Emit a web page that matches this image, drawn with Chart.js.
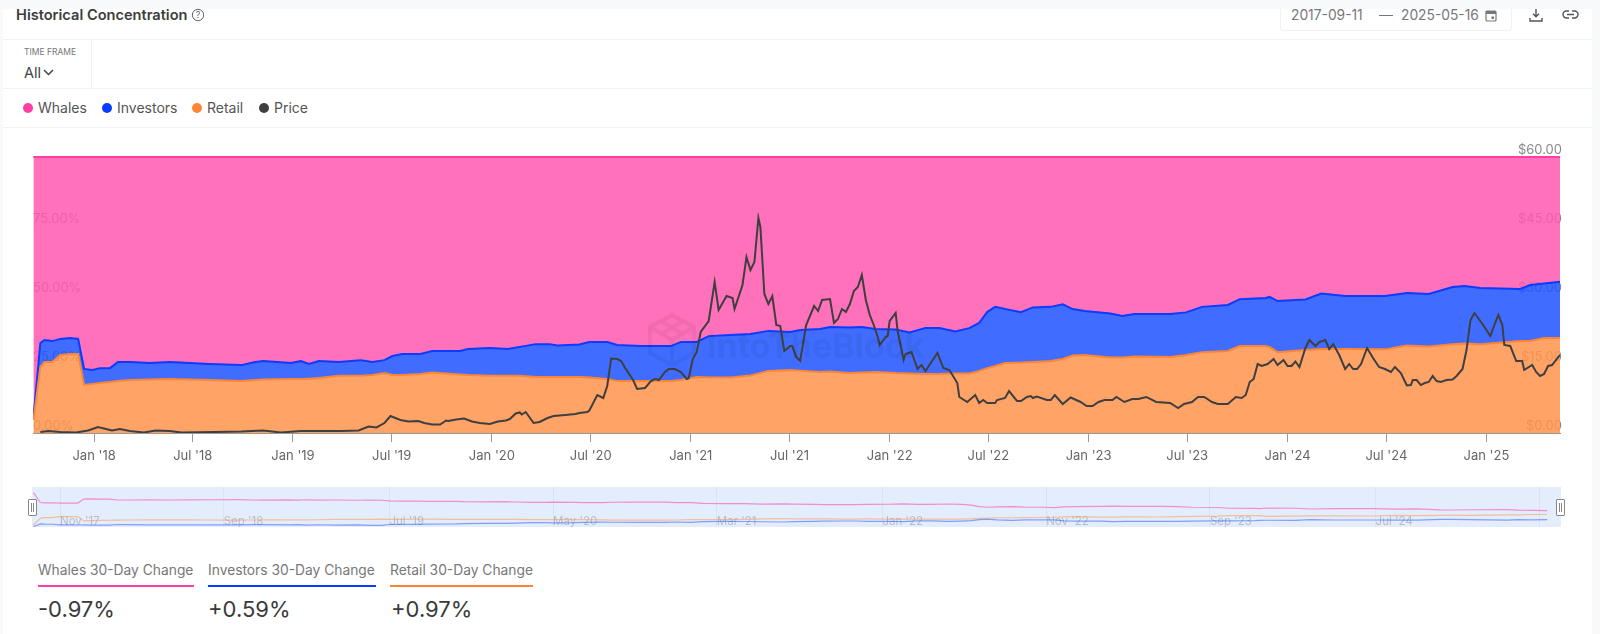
<!DOCTYPE html>
<html>
<head>
<meta charset="utf-8">
<title>Historical Concentration</title>
<script src="https://cdn.jsdelivr.net/npm/chart.js@4"></script>
<style>
  html, body { margin: 0; padding: 0; background: #fff; }
  body { width: 1600px; height: 634px; position: relative; overflow: hidden; font-family: Inter, sans-serif; color: #444; }
  .abs { position: absolute; white-space: nowrap; }
  .rule { position: absolute; left: 3px; width: 1589px; height: 1px; background: #f1f2f3; }
  .dot { position: absolute; width: 10px; height: 10px; border-radius: 50%; top: 103px; }
  .legend { position: absolute; top: 99px; font-size: 14px; line-height: 18px; color: #555; }
  .label { position: absolute; top: 561px; font-size: 13.8px; line-height: 18px; color: #777; white-space: nowrap; }
  .under { position: absolute; top: 585px; height: 2px; }
  .value { position: absolute; top: 595px; font-size: 22px; line-height: 29px; color: #3a3a3a; }
  .handle { position: absolute; top: 499px; width: 7px; height: 15px; border: 1px solid #888; background: #fff; border-radius: 1px; }
  .handle i { position: absolute; top: 3px; left: 2px; width: 3px; height: 9px; box-sizing: border-box; border-left: 1px solid #888; border-right: 1px solid #888; }
  canvas { position: absolute; }
</style>
</head>
<body>
<div class="abs" style="left:0;top:0;width:1600px;height:9px;background:#f8f9fb"></div>
<div class="abs" style="left:0;top:0;width:3px;height:634px;background:#f8f9fb"></div>
<div class="abs" style="left:1592px;top:0;width:8px;height:634px;background:#f8f9fb"></div>

<div class="abs" style="left:16px;top:6px;font-size:14.6px;line-height:18px;font-weight:600;color:#3c3c3c">Historical Concentration</div>
<svg class="abs" style="left:191px;top:8px" width="14" height="14" viewBox="0 0 14 14"><circle cx="7" cy="7" r="5.7" fill="none" stroke="#666" stroke-width="1"/><text x="7" y="10" text-anchor="middle" font-size="9" fill="#666" font-family="Inter">?</text></svg>

<div class="abs" style="left:1280px;top:9px;width:230px;height:21px;border:1px solid #f0f1f2;border-top:0;border-radius:0 0 4px 4px"></div>
<div class="abs" style="left:1291px;top:6px;font-size:13.8px;line-height:18px;color:#777">2017-09-11</div>
<div class="abs" style="left:1379px;top:15px;width:14px;height:1px;background:#777"></div>
<div class="abs" style="left:1401px;top:6px;font-size:13.8px;line-height:18px;color:#777">2025-05-16</div>
<svg class="abs" style="left:1485px;top:9px" width="12" height="13" viewBox="0 0 12 13"><rect x="1" y="2" width="10" height="10" rx="1" fill="none" stroke="#777" stroke-width="1.2"/><rect x="1" y="2" width="10" height="3" fill="#777"/><rect x="6.5" y="7.5" width="2.5" height="2.5" fill="#777"/></svg>
<svg class="abs" style="left:1529px;top:8px" width="14" height="14" viewBox="0 0 14 14"><path d="M7 1v7.5M4 5.8l3 3 3-3M1 10v3h12v-3" fill="none" stroke="#555" stroke-width="1.4"/></svg>
<svg class="abs" style="left:1562px;top:9px" width="17" height="12" viewBox="0 0 17 12"><path d="M7 2H4.5a3.5 3.5 0 0 0 0 7H7M10 2h2.5a3.5 3.5 0 0 1 0 7H10M5 5.5h7" fill="none" stroke="#555" stroke-width="1.4"/></svg>

<div class="rule" style="top:39px"></div>
<div class="rule" style="top:88px"></div>
<div class="rule" style="top:127px"></div>
<div class="abs" style="left:91px;top:39px;width:1px;height:49px;background:#f1f2f3"></div>

<div class="abs" style="left:24px;top:47px;font-size:8.5px;line-height:11px;color:#777">TIME FRAME</div>
<div class="abs" style="left:24px;top:64px;font-size:14.5px;line-height:18px;color:#444">All</div>
<svg class="abs" style="left:43px;top:69px" width="11" height="7" viewBox="0 0 11 7"><path d="M1 1l4.5 4.5L10 1" fill="none" stroke="#444" stroke-width="1.5"/></svg>

<div class="dot" style="left:23px;background:#ff3ea5"></div><div class="legend" style="left:38px">Whales</div>
<div class="dot" style="left:102px;background:#0a3cff"></div><div class="legend" style="left:117px">Investors</div>
<div class="dot" style="left:192px;background:#ff8534"></div><div class="legend" style="left:207px">Retail</div>
<div class="dot" style="left:259px;background:#3f3f3f"></div><div class="legend" style="left:274px">Price</div>

<canvas id="concentrationChart" style="left:0;top:0"></canvas>

<svg class="abs" style="left:648px;top:313px" width="48" height="54" viewBox="0 0 48 54"><path d="M24 2L46 14V40L24 52L2 40V14ZM2 14L24 27L46 14M24 27V52M13 8L35 21M35 8L13 21" fill="none" stroke="rgba(0,0,0,0.05)" stroke-width="4"/></svg>
<div class="abs" style="left:707px;top:325px;font-size:34px;line-height:42px;font-weight:700;color:rgba(0,0,0,0.055)">IntoTheBlock</div>

<div class="abs" style="left:32px;top:487px;width:1529px;height:40px;background:#e4edfc"></div>
<canvas id="navigatorChart" style="left:0;top:480px"></canvas>
<div class="handle" style="left:28px"><i></i></div>
<div class="handle" style="left:1556px"><i></i></div>

<div class="label" style="left:38px">Whales 30-Day Change</div>
<div class="under" style="left:38px;width:156px;background:#ff3ea5"></div>
<div class="value" style="left:38px">-0.97%</div>
<div class="label" style="left:208px">Investors 30-Day Change</div>
<div class="under" style="left:208px;width:168px;background:#0a3cff"></div>
<div class="value" style="left:208px">+0.59%</div>
<div class="label" style="left:390px">Retail 30-Day Change</div>
<div class="under" style="left:390px;width:143px;background:#ff8534"></div>
<div class="value" style="left:391px">+0.97%</div>

<script>
// dates are decimal years, no date adapter available
var shareYears = [2017.695,2017.73,2017.75,2017.79,2017.83,2017.88,2017.92,2017.95,2017.99,2018.03,2018.08,2018.12,2018.18,2018.28,2018.38,2018.48,2018.58,2018.74,2018.81,2018.85,2018.99,2019.04,2019.08,2019.13,2019.23,2019.34,2019.40,2019.46,2019.50,2019.55,2019.64,2019.70,2019.84,2019.88,2019.99,2020.08,2020.14,2020.22,2020.29,2020.33,2020.44,2020.49,2020.58,2020.63,2020.75,2020.90,2020.95,2021.03,2021.09,2021.20,2021.30,2021.39,2021.50,2021.55,2021.65,2021.70,2021.80,2021.86,2021.93,2022.03,2022.10,2022.18,2022.25,2022.33,2022.40,2022.45,2022.49,2022.53,2022.58,2022.66,2022.72,2022.81,2022.87,2022.92,2022.98,2023.11,2023.17,2023.23,2023.41,2023.49,2023.57,2023.70,2023.76,2023.89,2023.91,2023.95,2024.09,2024.17,2024.29,2024.49,2024.60,2024.71,2024.83,2024.89,2024.97,2025.17,2025.22,2025.29,2025.37];
var retail = [4.7,23.9,25.7,25.7,28.3,28.6,28.6,17.4,17.8,18.1,18.5,18.8,19.2,19.4,19.6,19.4,19.2,18.8,19.2,19.4,19.6,19.6,19.7,19.9,20.7,20.7,21.0,21.7,21.0,21.0,21.4,21.9,21.2,21.0,20.7,20.7,20.7,20.3,20.3,20.3,20.3,20.1,19.6,18.8,18.8,18.8,19.2,20.3,20.1,20.1,20.8,22.5,22.8,22.6,22.1,22.3,21.7,21.9,22.1,21.7,21.6,21.4,21.4,21.6,21.6,22.5,23.5,24.3,25.4,25.5,25.7,26.1,26.8,28.1,28.3,27.4,27.4,27.7,27.5,28.3,29.3,29.7,31.5,31.5,31.2,29.3,30.1,30.4,30.4,30.3,31.7,31.3,32.2,32.4,32.2,33.3,33.3,34.4,34.4];
var investors = [0.7,8.7,8.0,7.6,5.8,5.8,5.5,5.8,5.0,5.4,5.0,6.9,6.5,6.0,6.1,6.0,5.8,5.8,6.5,6.7,5.8,6.5,5.3,6.2,5.0,5.7,4.7,4.7,6.9,7.6,7.2,7.8,8.5,9.4,10.1,9.7,10.5,11.9,11.9,11.4,11.8,12.9,13.4,13.1,12.7,12.7,13.8,12.7,15.0,15.4,15.1,14.5,13.8,14.7,15.6,16.1,16.5,16.5,15.6,15.8,14.8,16.6,16.6,15.2,16.4,17.4,20.3,21.4,19.5,18.3,19.8,19.6,19.8,16.8,15.9,15.9,15.0,15.4,15.6,15.4,16.4,16.7,17.0,17.4,18.1,18.5,18.3,20.1,19.2,19.3,19.0,19.1,20.7,20.9,20.3,18.9,20.3,19.8,20.4];
var whales = [94.6,67.4,66.3,66.7,65.9,65.6,65.9,76.8,77.2,76.5,76.5,74.3,74.3,74.6,74.3,74.6,75.0,75.4,74.3,73.9,74.6,73.9,75.0,73.9,74.3,73.6,74.3,73.6,72.1,71.4,71.4,70.3,70.3,69.6,69.2,69.6,68.8,67.8,67.8,68.3,67.9,67.0,67.0,68.1,68.5,68.5,67.0,67.0,64.9,64.5,64.1,63.0,63.4,62.7,62.3,61.6,61.8,61.6,62.3,62.5,63.6,62.0,62.0,63.2,62.0,60.1,56.2,54.3,55.1,56.2,54.5,54.3,53.4,55.1,55.8,56.7,57.6,56.9,56.9,56.3,54.3,53.6,51.5,51.1,50.7,52.2,51.6,49.5,50.4,50.4,49.3,49.6,47.1,46.7,47.5,47.8,46.4,45.8,45.2];

var priceYears = [2017.73,2017.77,2017.83,2017.91,2017.97,2018.02,2018.06,2018.09,2018.13,2018.18,2018.25,2018.31,2018.38,2018.44,2018.61,2018.74,2018.85,2018.94,2019.04,2019.24,2019.33,2019.38,2019.42,2019.46,2019.49,2019.54,2019.58,2019.63,2019.66,2019.70,2019.74,2019.77,2019.78,2019.82,2019.86,2019.90,2019.94,2019.99,2020.03,2020.07,2020.09,2020.12,2020.14,2020.15,2020.17,2020.21,2020.24,2020.28,2020.31,2020.37,2020.42,2020.44,2020.48,2020.49,2020.53,2020.56,2020.58,2020.60,2020.63,2020.65,2020.67,2020.71,2020.73,2020.77,2020.80,2020.82,2020.84,2020.87,2020.89,2020.92,2020.95,2020.98,2020.99,2021.01,2021.03,2021.05,2021.09,2021.12,2021.14,2021.18,2021.21,2021.22,2021.26,2021.28,2021.30,2021.32,2021.34,2021.35,2021.37,2021.39,2021.41,2021.43,2021.45,2021.47,2021.50,2021.51,2021.53,2021.55,2021.58,2021.62,2021.64,2021.66,2021.70,2021.72,2021.74,2021.76,2021.78,2021.80,2021.82,2021.84,2021.86,2021.88,2021.90,2021.92,2021.94,2021.95,2021.98,2021.99,2022.00,2022.03,2022.04,2022.07,2022.08,2022.11,2022.14,2022.16,2022.18,2022.24,2022.27,2022.30,2022.34,2022.35,2022.39,2022.43,2022.45,2022.47,2022.49,2022.53,2022.54,2022.58,2022.60,2022.64,2022.66,2022.69,2022.71,2022.72,2022.74,2022.79,2022.81,2022.83,2022.87,2022.91,2022.96,2022.99,2023.02,2023.05,2023.08,2023.12,2023.14,2023.18,2023.22,2023.25,2023.29,2023.34,2023.41,2023.45,2023.48,2023.52,2023.55,2023.58,2023.59,2023.62,2023.65,2023.70,2023.74,2023.77,2023.79,2023.81,2023.83,2023.85,2023.87,2023.90,2023.93,2023.95,2023.98,2024.00,2024.02,2024.04,2024.06,2024.09,2024.11,2024.14,2024.16,2024.19,2024.21,2024.23,2024.26,2024.29,2024.31,2024.33,2024.35,2024.37,2024.40,2024.43,2024.46,2024.49,2024.52,2024.54,2024.57,2024.60,2024.62,2024.63,2024.65,2024.67,2024.69,2024.71,2024.73,2024.75,2024.77,2024.80,2024.83,2024.85,2024.88,2024.90,2024.92,2024.94,2024.98,2025.02,2025.04,2025.06,2025.08,2025.09,2025.12,2025.15,2025.18,2025.19,2025.23,2025.25,2025.27,2025.29,2025.31,2025.33,2025.37];
var priceValues = [0.22,0.43,0.22,0.11,0.54,1.30,0.87,0.54,0.87,0.43,0.11,0.54,0.43,0.11,0.22,0.33,0.54,0.11,0.43,0.43,0.54,1.41,1.20,2.17,3.70,2.83,2.50,2.61,2.17,1.85,1.85,2.72,2.61,2.93,3.15,2.50,2.17,1.96,2.50,2.72,3.04,4.24,4.46,4.02,4.57,2.17,2.39,3.26,3.70,3.91,4.13,4.35,4.57,4.89,8.26,7.61,10.22,16.2,16.09,15.65,14.13,11.52,9.57,9.78,11.30,11.74,11.52,13.26,13.91,13.91,13.26,11.74,11.96,16.09,17.61,21.96,24.35,32.83,26.74,29.78,29.35,26.96,32.17,38.26,35.43,37.17,46.74,44.78,30.22,28.04,29.78,23.48,23.26,17.83,18.91,18.91,16.52,15.65,23.48,27.61,26.52,28.91,29.13,23.91,24.78,26.96,26.30,28.04,30.87,31.74,34.35,28.91,25.65,23.48,20.87,19.13,20.87,21.09,24.35,26.09,22.17,15.87,17.17,17.61,13.91,14.78,13.48,17.39,14.13,13.70,10.87,7.83,6.74,8.26,6.52,7.17,6.52,6.52,7.17,7.61,9.13,6.96,6.96,7.83,8.04,7.61,7.93,7.17,7.17,8.26,6.30,7.72,6.74,5.87,5.87,6.74,7.17,7.17,7.83,6.74,7.39,7.39,7.83,6.74,6.52,5.43,6.30,6.74,7.83,7.83,7.61,6.74,6.30,6.30,7.83,7.61,8.26,11.09,11.74,15.00,14.57,15.00,16.09,14.78,15.87,14.57,14.57,15.54,14.35,18.48,20.22,18.91,19.78,20.22,18.26,19.35,16.96,13.91,15.00,13.91,13.91,15.00,18.48,16.30,14.35,13.91,13.26,14.35,13.04,10.33,10.43,11.52,11.52,10.43,10.87,11.09,12.39,11.30,11.09,11.52,11.63,12.39,13.91,18.04,24.57,26.09,23.70,21.09,23.48,25.65,23.48,19.13,18.91,15.65,15.65,13.70,14.78,13.26,12.39,12.83,14.57,14.78,16.96];

var xTickYears = [2018,2018.496,2019,2019.496,2020,2020.497,2021,2021.496,2022,2022.496,2023,2023.496,2024,2024.497,2025];
var xTickLabels = ["Jan '18","Jul '18","Jan '19","Jul '19","Jan '20","Jul '20","Jan '21","Jul '21","Jan '22","Jul '22","Jan '23","Jul '23","Jan '24","Jul '24","Jan '25"];
var percentTicks = [0, 25, 50, 75];
var priceTicks = [0, 15, 30, 45, 60];

var navTickYears = [2017.83,2018.66,2019.50,2020.33,2021.16,2022.00,2022.83,2023.66,2024.50,2025.33];
var navTickLabels = ["Nov '17","Sep '18","Jul '19","May '20","Mar '21","Jan '22","Nov '22","Sep '23","Jul '24",""];

function pairs(xs, ys) {
    return xs.map(function(x, i) { return { x: x, y: ys[i] }; });
}
function setTicks(list) {
    return function(scale) {
        scale.ticks = list.map(function(v) { return { value: v }; });
    };
}

Chart.defaults.font.family = 'Inter, sans-serif';
Chart.defaults.animation = false;

function sizeCanvas(id, w, h) {
    var c = document.getElementById(id);
    c.width = w; c.height = h;
    c.style.width = w + 'px'; c.style.height = h + 'px';
    return c;
}

var concentrationChart = new Chart(sizeCanvas('concentrationChart', 1600, 470), {
    type: 'line',
    data: {
        datasets: [
            { label: 'Retail', data: pairs(shareYears, retail), yAxisID: 'y', fill: 'origin',
              borderColor: '#ff8534', backgroundColor: 'rgba(255,147,76,0.85)', borderWidth: 2, pointRadius: 0 },
            { label: 'Investors', data: pairs(shareYears, investors), yAxisID: 'y', fill: '-1',
              borderColor: '#0a3cff', backgroundColor: 'rgba(30,83,255,0.85)', borderWidth: 2, pointRadius: 0 },
            { label: 'Whales', data: pairs(shareYears, whales), yAxisID: 'y', fill: '-1',
              borderColor: '#ff3ea5', backgroundColor: 'rgba(255,88,175,0.85)', borderWidth: 2, pointRadius: 0, clip: false },
            // price has to sit on top of the areas
            { label: 'Price', data: pairs(priceYears, priceValues), yAxisID: 'y1', fill: false, order: -1,
              borderColor: '#3f3f3f', borderWidth: 2, pointRadius: 0 }
        ]
    },
    options: {
        responsive: false,
        layout: { padding: { left: 33, right: 40, top: 157, bottom: 0 } },
        plugins: { legend: { display: false }, tooltip: { enabled: false } },
        scales: {
            x: {
                type: 'linear', min: 2017.693, max: 2025.37,
                afterBuildTicks: setTicks(xTickYears),
                afterFit: function(s) { s.height = 37; },
                grid: { drawOnChartArea: false, tickLength: 9, tickColor: '#999' },
                border: { color: '#999' },
                ticks: {
                    autoSkip: false, maxRotation: 0, padding: 6, color: '#666', font: { size: 13 },
                    callback: function(v) { return xTickLabels[xTickYears.indexOf(v)]; }
                }
            },
            y: {
                stacked: true, min: 0, max: 100, position: 'left',
                afterBuildTicks: setTicks(percentTicks),
                afterFit: function(s) { s.width = 0; },
                grid: { drawTicks: false, color: 'rgba(0,0,0,0.07)' },
                border: { display: false, dash: [2, 3] },
                ticks: {
                    mirror: true, padding: 0, labelOffset: -7, color: '#888', font: { size: 13 },
                    callback: function(v) { return v.toFixed(2) + '%'; }
                }
            },
            y1: {
                min: 0, max: 60, position: 'right',
                afterBuildTicks: setTicks(priceTicks),
                afterFit: function(s) { s.width = 0; },
                grid: { display: false },
                border: { display: false },
                ticks: {
                    mirror: true, padding: 2, labelOffset: -7, color: '#888', font: { size: 13 },
                    callback: function(v) { return '$' + v.toFixed(2); }
                }
            }
        }
    }
});

var navigatorChart = new Chart(sizeCanvas('navigatorChart', 1600, 60), {
    type: 'line',
    data: {
        datasets: [
            { data: pairs(shareYears, whales), borderColor: 'rgba(255,62,165,0.55)', borderWidth: 1.2, pointRadius: 0 },
            { data: pairs(shareYears, retail), borderColor: 'rgba(255,133,52,0.45)', borderWidth: 1.2, pointRadius: 0 },
            { data: pairs(shareYears, investors), borderColor: 'rgba(10,60,255,0.45)', borderWidth: 1.2, pointRadius: 0 }
        ]
    },
    options: {
        responsive: false,
        layout: { padding: { left: 33, right: 39, top: 7, bottom: 0 } },
        plugins: { legend: { display: false }, tooltip: { enabled: false } },
        scales: {
            x: {
                type: 'linear', min: 2017.693, max: 2025.44,
                afterBuildTicks: setTicks(navTickYears),
                afterFit: function(s) { s.height = 13; },
                grid: { drawTicks: false, color: 'rgba(0,0,0,0.04)' },
                border: { display: false },
                ticks: {
                    autoSkip: false, maxRotation: 0, align: 'start', mirror: true, padding: -1, color: 'rgba(0,0,0,0.2)', font: { size: 11.5 },
                    callback: function(v) { return navTickLabels[navTickYears.indexOf(v)]; }
                }
            },
            y: { display: false, min: 0, max: 110 }
        }
    }
});
</script>
</body>
</html>
